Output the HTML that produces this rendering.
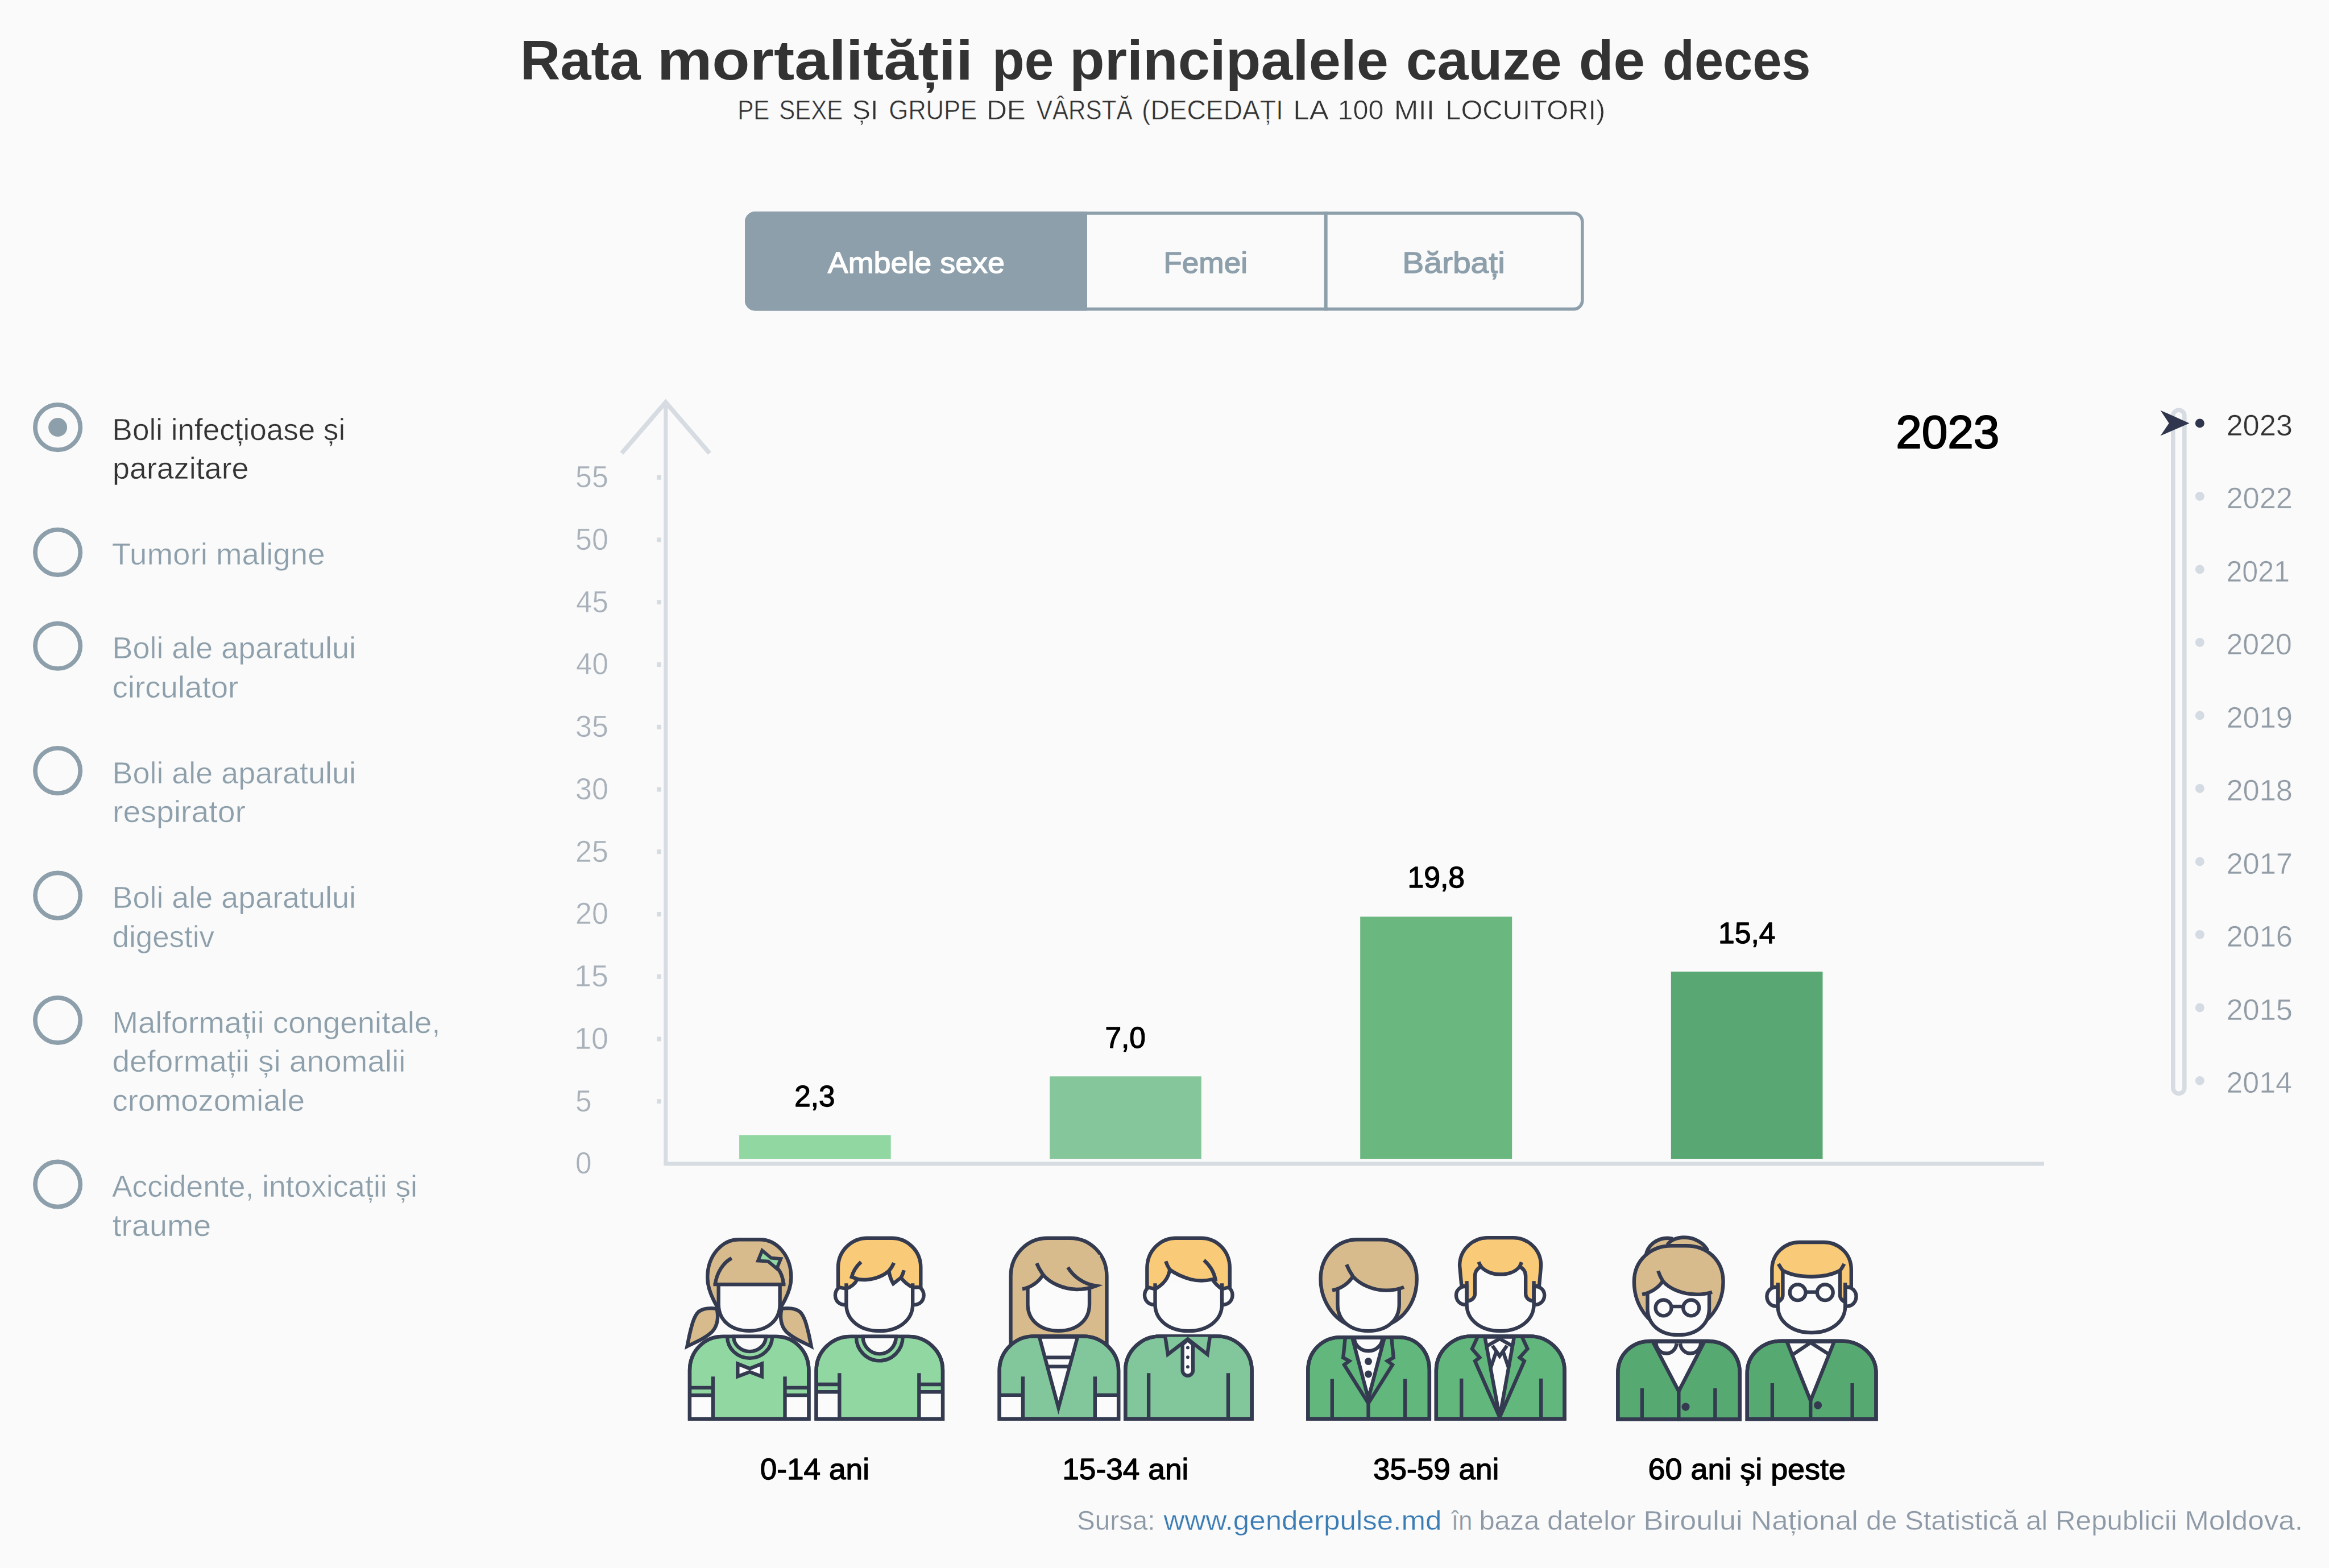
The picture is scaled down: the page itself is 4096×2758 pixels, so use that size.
<!DOCTYPE html>
<html lang="ro"><head><meta charset="utf-8"><title>Rata mortalității pe principalele cauze de deces</title>
<style>
html,body{margin:0;padding:0;background:#fafafa;}
body{width:4096px;height:2758px;font-family:"Liberation Sans", Arial, Helvetica, sans-serif;}
svg{display:block;position:absolute;left:0;top:0;}
text{font-family:"Liberation Sans", Arial, Helvetica, sans-serif;white-space:pre;}
.ol{stroke:#343b50;stroke-width:27;stroke-linejoin:miter;stroke-linecap:butt;}
.nf{fill:none;}
</style></head><body>
<svg width="4096" height="2758" viewBox="0 0 4096 2758">
<rect width="4096" height="2758" fill="#fafafa"/>

<rect x="1312.8" y="375" width="1470" height="168.6" rx="15" fill="#fafafa" stroke="#8d9fab" stroke-width="5.6"/>
<path d="M1912,372.2 H1328 a18,18 0 0 0 -18,18 V528.4 a18,18 0 0 0 18,18 H1912 Z" fill="#8d9fab"/>
<rect x="2328.7" y="372.2" width="6" height="174.2" fill="#8d9fab"/>
<circle cx="101.6" cy="751.6" r="39.7" fill="none" stroke="#8d9fab" stroke-width="7.7"/>
<circle cx="101.6" cy="971.4" r="39.7" fill="none" stroke="#8d9fab" stroke-width="7.7"/>
<circle cx="101.6" cy="1136.3" r="39.7" fill="none" stroke="#8d9fab" stroke-width="7.7"/>
<circle cx="101.6" cy="1355.6" r="39.7" fill="none" stroke="#8d9fab" stroke-width="7.7"/>
<circle cx="101.6" cy="1575.1" r="39.7" fill="none" stroke="#8d9fab" stroke-width="7.7"/>
<circle cx="101.6" cy="1794.5" r="39.7" fill="none" stroke="#8d9fab" stroke-width="7.7"/>
<circle cx="101.6" cy="2083.0" r="39.7" fill="none" stroke="#8d9fab" stroke-width="7.7"/>
<circle cx="101.6" cy="751.6" r="16.5" fill="#8d9fab"/>
<path d="M1170.8,705 V2047 H3595" fill="none" stroke="#d6dce2" stroke-width="7.2" stroke-linecap="butt" stroke-linejoin="miter"/>
<path d="M1093.3,797.2 L1170.7,707.5 L1247.9,797.2" fill="none" stroke="#d6dce2" stroke-width="7.8" stroke-linejoin="miter"/>
<rect x="1155" y="1933.2" width="8" height="8" fill="#d6dce2"/>
<rect x="1155" y="1823.5" width="8" height="8" fill="#d6dce2"/>
<rect x="1155" y="1713.8" width="8" height="8" fill="#d6dce2"/>
<rect x="1155" y="1604.0" width="8" height="8" fill="#d6dce2"/>
<rect x="1155" y="1494.2" width="8" height="8" fill="#d6dce2"/>
<rect x="1155" y="1384.5" width="8" height="8" fill="#d6dce2"/>
<rect x="1155" y="1274.8" width="8" height="8" fill="#d6dce2"/>
<rect x="1155" y="1165.0" width="8" height="8" fill="#d6dce2"/>
<rect x="1155" y="1055.2" width="8" height="8" fill="#d6dce2"/>
<rect x="1155" y="945.5" width="8" height="8" fill="#d6dce2"/>
<rect x="1155" y="835.8" width="8" height="8" fill="#d6dce2"/>
<rect x="1300.1" y="1996.5" width="266.6" height="42.3" fill="#90d7a1"/>
<rect x="1846.2" y="1893.3" width="266.6" height="145.5" fill="#86c69b"/>
<rect x="2392.2" y="1612.4" width="267.0" height="426.4" fill="#6ab880"/>
<rect x="2938.8" y="1709.0" width="266.7" height="329.8" fill="#59a873"/>
<rect x="3821.8" y="721.2" width="20" height="1202.4" rx="10" fill="none" stroke="#d6dce2" stroke-width="7.6"/>
<circle cx="3868.8" cy="744.4" r="8" fill="#30364d"/>
<circle cx="3868.8" cy="872.9" r="8" fill="#d5dbe3"/>
<circle cx="3868.8" cy="1001.4" r="8" fill="#d5dbe3"/>
<circle cx="3868.8" cy="1129.9" r="8" fill="#d5dbe3"/>
<circle cx="3868.8" cy="1258.4" r="8" fill="#d5dbe3"/>
<circle cx="3868.8" cy="1386.9" r="8" fill="#d5dbe3"/>
<circle cx="3868.8" cy="1515.4" r="8" fill="#d5dbe3"/>
<circle cx="3868.8" cy="1643.9" r="8" fill="#d5dbe3"/>
<circle cx="3868.8" cy="1772.4" r="8" fill="#d5dbe3"/>
<circle cx="3868.8" cy="1900.9" r="8" fill="#d5dbe3"/>
<path d="M3799.5,721.7 L3850.5,744.4 L3799.5,766.6 L3814.6,744.4 Z" fill="#30364d"/>
<g transform="translate(1200,2160) scale(0.11798)" fill="none" stroke="#343b50" stroke-width="54" stroke-miterlimit="10">
<path d="M500,1200 C400,1190 300,1200 240,1250 C170,1320 140,1450 105,1600 L72,1765 C200,1700 350,1640 450,1540 C530,1450 540,1320 515,1210 Z" fill="#d8bb8c"/>
<g transform="matrix(-1 0 0 1 1994 0)"><path d="M500,1200 C400,1190 300,1200 240,1250 C170,1320 140,1450 105,1600 L72,1765 C200,1700 350,1640 450,1540 C530,1450 540,1320 515,1210 Z" fill="#d8bb8c"/></g>
<path d="M515,1165 C430,1020 375,880 375,740 C375,400 600,172 840,172 H1155 C1400,172 1622,400 1622,740 C1622,880 1565,1020 1480,1160 Z" fill="#d8bb8c"/>
<path d="M540,840 V1138 C540,1378 727.5,1533 997.5,1533 C1267.5,1533 1455,1378 1455,1138 V840 Z" fill="#fbfbfc"/>
<path d="M462,840 H1538"/>
<path d="M490,840 C510,680 600,520 735,450"/>
<path d="M1510,840 C1500,740 1470,660 1420,600"/>
<path d="M1190,335 L1325,447 L1468,458 L1408,605 L1280,497 L1128,488 Z" fill="#90d7a1" stroke-width="50"/>
</g>
<g transform="translate(1200,2335) scale(0.11798)" fill="none" stroke="#343b50" stroke-width="54" stroke-miterlimit="10">
<path d="M110,1362 V640 C110,350 330,135 600,135 H1400 C1670,135 1885,350 1885,640 V1362 Z" fill="#90d7a1"/>
<rect x="110" y="1010" width="347" height="352" fill="#fbfbfc" stroke="none"/>
<rect x="1530" y="1010" width="355" height="352" fill="#fbfbfc" stroke="none"/>
<path d="M110,897 H457 M1530,897 H1885"/>
<path d="M110,1010 H457 M1530,1010 H1885"/>
<path d="M457,730 V1362 M1530,730 V1362"/>
<path d="M110,1362 V640 C110,350 330,135 600,135 H1400 C1670,135 1885,350 1885,640 V1362 Z"/>
<path d="M765,135 A240,222 0 0 0 1245,135 Z" fill="#fbfbfc"/>
<path d="M670,135 A335,322 0 0 0 1340,135"/>
<path d="M825,540 L1005,612 L1185,540 V730 L1005,662 L825,730 Z" fill="#fbfbfc"/>
</g>
<g transform="translate(1440,2160) scale(0.11798)" fill="none" stroke="#343b50" stroke-width="54" stroke-miterlimit="10">
<path d="M410,862 C300,850 245,930 245,1003 C245,1080 300,1150 410,1145" fill="#fbfbfc"/>
<g transform="matrix(-1 0 0 1 1810 0)"><path d="M410,862 C300,850 245,930 245,1003 C245,1080 300,1150 410,1145" fill="#fbfbfc"/></g>
<path d="M410,830 V1140 C410,1380 627,1535 905,1535 C1183,1535 1400,1380 1400,1140 V830 Z" fill="#fbfbfc" stroke="none"/>
<path d="M288,880 V590 C288,330 500,150 720,150 H1090 C1310,150 1520,330 1520,590 V880 L1400,885 C1330,850 1270,800 1225,740 L1110,830 C1075,770 1055,710 1045,640 C930,740 760,790 575,765 C540,830 480,880 410,905 Z" fill="#f9ca78"/>
<path d="M630,505 C560,570 510,650 490,730 L590,765"/>
<path d="M1120,520 C1100,565 1075,605 1045,640"/>
<path d="M1270,630 C1260,670 1245,705 1225,740"/>
<path d="M410,825 V1140 C410,1380 627,1535 905,1535 C1183,1535 1400,1380 1400,1140 V825"/>
</g>
<g transform="translate(1425,2335) scale(0.11798)" fill="none" stroke="#343b50" stroke-width="54" stroke-miterlimit="10">
<path d="M90,1362 V640 C90,350 330,135 600,135 H1465 C1735,135 1975,350 1975,640 V1362 Z" fill="#90d7a1"/>
<rect x="90" y="960" width="345" height="402" fill="#fbfbfc" stroke="none"/>
<rect x="1622" y="960" width="353" height="402" fill="#fbfbfc" stroke="none"/>
<path d="M90,848 H435 M1622,848 H1975"/>
<path d="M90,960 H435 M1622,960 H1975"/>
<path d="M435,680 V1362 M1622,680 V1362"/>
<path d="M90,1362 V640 C90,350 330,135 600,135 H1465 C1735,135 1975,350 1975,640 V1362 Z"/>
<path d="M785,135 A247,258 0 0 0 1279,135 Z" fill="#fbfbfc"/>
<path d="M685,135 A347,360 0 0 0 1379,135"/>
</g>
<g transform="translate(1740,2160) scale(0.11798)" fill="none" stroke="#343b50" stroke-width="54" stroke-miterlimit="10">
<path d="M318,2000 V720 C318,400 560,150 870,150 H1200 C1510,150 1750,400 1750,720 V2000 Z" fill="#d8bb8c"/>
<path d="M572,600 V1138 C572,1378 762,1533 1032,1533 C1302,1533 1492,1378 1492,1138 V600 Z" fill="#fbfbfc" stroke="none"/>
<path d="M572,600 V1138 C572,1378 762,1533 1032,1533 C1302,1533 1492,1378 1492,1138 V600"/>
<path d="M492,910 C620,890 740,800 800,695 C900,820 1100,910 1300,915 C1430,915 1520,890 1590,862 L1650,400 L492,400 Z" fill="#d8bb8c" stroke="none"/>
<path d="M492,910 C620,890 740,800 800,695"/>
<path d="M705,525 C740,610 770,650 800,695 C900,820 1100,910 1300,915 C1430,915 1520,890 1590,862 C1400,835 1250,720 1170,585" stroke-miterlimit="20"/>
</g>
<g transform="translate(1740,2335) scale(0.11798)" fill="none" stroke="#343b50" stroke-width="54" stroke-miterlimit="10">
<path d="M150,1362 V640 C150,350 390,130 660,130 H1400 C1670,130 1925,350 1925,640 V1362 Z" fill="#82c79b"/>
<rect x="150" y="1008" width="350" height="354" fill="#fbfbfc" stroke="none"/>
<rect x="1575" y="1008" width="350" height="354" fill="#fbfbfc" stroke="none"/>
<path d="M150,1008 H500 M1575,1008 H1925"/>
<path d="M500,730 V1362 M1575,730 V1362"/>
<path d="M150,1362 V640 C150,350 390,130 660,130 H1400 C1670,130 1925,350 1925,640 V1362 Z"/>
<path d="M745,140 L1030,1195 L1315,140 Z" fill="#fbfbfc"/>
<path d="M835,447 H1225 M872,582 H1188"/>
</g>
<g transform="translate(1990,2160) scale(0.11798)" fill="none" stroke="#343b50" stroke-width="54" stroke-miterlimit="10">
<path d="M352,862 C250,850 195,930 195,1000 C195,1075 250,1148 352,1142" fill="#fbfbfc"/>
<g transform="matrix(-1 0 0 1 1700 0)"><path d="M352,862 C250,850 195,930 195,1000 C195,1075 250,1148 352,1142" fill="#fbfbfc"/></g>
<path d="M352,830 V1140 C352,1380 572,1535 850,1535 C1128,1535 1348,1380 1348,1140 V830 Z" fill="#fbfbfc" stroke="none"/>
<path d="M232,880 V600 C232,330 440,150 660,150 H1040 C1260,150 1465,330 1465,600 V880 L1348,910 C1290,870 1240,820 1205,765 C1100,790 980,790 880,765 C760,730 650,680 570,620 C550,760 460,850 352,910 Z" fill="#f9ca78"/>
<path d="M510,495 C525,540 545,580 570,620"/>
<path d="M1080,480 C1170,560 1230,660 1250,765 L1205,765"/>
<path d="M352,825 V1140 C352,1380 572,1535 850,1535 C1128,1535 1348,1380 1348,1140 V825"/>
</g>
<g transform="translate(1970,2335) scale(0.11798)" fill="none" stroke="#343b50" stroke-width="54" stroke-miterlimit="10">
<path d="M78,1362 V640 C78,350 320,130 590,130 H1450 C1720,130 1963,350 1963,640 V1362 Z" fill="#82c79b"/>
<path d="M78,1362 V640 C78,350 320,130 590,130 H1450 C1720,130 1963,350 1963,640 V1362 Z"/>
<path d="M930,250 V640 A77.5,77.5 0 0 0 1085,640 V250 L1008,185 Z" fill="#fbfbfc"/>
<path d="M672,140 L712,400 L1008,172 L1300,400 L1338,140" fill="#82c79b"/>
<circle cx="1008" cy="300" r="25" fill="#343b50" stroke="none"/><circle cx="1008" cy="443" r="25" fill="#343b50" stroke="none"/><circle cx="1008" cy="586" r="25" fill="#343b50" stroke="none"/>
<path d="M425,680 V1362 M1610,680 V1362"/>
</g>
<g transform="translate(2285,2160) scale(0.11798)" fill="none" stroke="#343b50" stroke-width="54" stroke-miterlimit="10">
<path d="M780,1462 C520,1370 318,1090 318,760 C318,420 560,172 870,172 H1200 C1510,172 1752,420 1752,760 C1752,1090 1570,1360 1290,1452 L1031,1250 Z" fill="#d8bb8c"/>
<path d="M572,600 V1140 C572,1380 761,1535 1031,1535 C1301,1535 1490,1380 1490,1140 V600 Z" fill="#fbfbfc" stroke="none"/>
<path d="M572,600 V1140 C572,1380 761,1535 1031,1535 C1301,1535 1490,1380 1490,1140 V600"/>
<path d="M492,930 C620,905 740,825 800,720 C900,840 1100,930 1300,930 C1400,930 1490,910 1560,880 L1560,400 L492,400 Z" fill="#d8bb8c" stroke="none"/>
<path d="M492,930 C620,905 740,825 800,720"/>
<path d="M705,545 C735,620 765,670 800,720 C900,840 1100,930 1300,930 C1400,930 1490,910 1560,880"/>
</g>
<g transform="translate(2285,2335) scale(0.11798)" fill="none" stroke="#343b50" stroke-width="54" stroke-miterlimit="10">
<path d="M130,1362 V640 C130,350 350,145 620,145 H1480 C1750,145 1940,350 1940,640 V1362 Z" fill="#62b77d"/>
<path d="M130,1362 V640 C130,350 350,145 620,145 H1480 C1750,145 1940,350 1940,640 V1362 Z"/>
<path d="M790,150 L1030,1060 L1270,150 Z" fill="#fbfbfc"/>
<path d="M820,150 A210,200 0 0 0 1240,150"/>
<path d="M685,150 L655,450 L745,500 L670,555 L1030,1130 L1390,555 L1315,500 L1405,450 L1375,150"/>
<path d="M1030,1130 V1362"/>
<circle cx="1030" cy="505" r="55" fill="#343b50" stroke="none"/><circle cx="1030" cy="695" r="55" fill="#343b50" stroke="none"/>
<path d="M490,765 V1362 M1578,765 V1362"/>
</g>
<g transform="translate(2535,2160) scale(0.11798)" fill="none" stroke="#343b50" stroke-width="54" stroke-miterlimit="10">
<path d="M378,872 C275,860 220,935 220,1003 C220,1078 275,1150 378,1142" fill="#fbfbfc"/>
<g transform="matrix(-1 0 0 1 1756 0)"><path d="M378,872 C275,860 220,935 220,1003 C220,1078 275,1150 378,1142" fill="#fbfbfc"/></g>
<path d="M378,800 V1140 C378,1380 600,1535 878,1535 C1156,1535 1378,1380 1378,1140 V800 Z" fill="#fbfbfc" stroke="none"/>
<path d="M300,860 L272,560 C272,320 470,145 690,145 H1070 C1290,145 1485,320 1485,560 L1458,860 L1378,870 V1090 C1316,1085 1256,1050 1256,980 V720 C1256,650 1216,600 1166,575 C1100,660 980,690 878,690 C780,690 660,660 590,575 C540,600 500,650 500,720 V980 C500,1050 440,1085 378,1090 V870 Z" fill="#f9ca78"/>
<path d="M555,505 C565,530 577,553 590,575 M1166,575 C1178,553 1188,530 1195,510"/>
<path d="M378,790 V1140 C378,1380 600,1535 878,1535 C1156,1535 1378,1380 1378,1140 V790"/>
</g>
<g transform="translate(2515,2335) scale(0.11798)" fill="none" stroke="#343b50" stroke-width="54" stroke-miterlimit="10">
<path d="M92,1362 V640 C92,350 340,130 610,130 H1490 C1760,130 2005,350 2005,640 V1362 Z" fill="#62b77d"/>
<path d="M92,1362 V640 C92,350 340,130 610,130 H1490 C1760,130 2005,350 2005,640 V1362 Z"/>
<path d="M817,140 L1038,1339 L1254,140 Z" fill="#fbfbfc" stroke-miterlimit="2.4"/>
<path d="M1038,167 L856,271 M1038,167 L1220,271"/>
<path d="M930,271 L1038,426 L1146,271"/>
<path d="M985,365 L905,600 M1091,365 L1171,600"/>
<path d="M709,140 L627,318 L739,448 L670,500 L1038,1339 L1405,500 L1336,448 L1453,318 L1371,140" stroke-miterlimit="2.4"/>
<path d="M468,760 V1362 M1655,760 V1362"/>
</g>
<g transform="translate(2830,2160) scale(0.11798)" fill="none" stroke="#343b50" stroke-width="54" stroke-miterlimit="10">
<path d="M545,420 C570,250 720,150 870,150 C900,150 930,155 950,162 C1000,145 1060,140 1120,140 C1280,140 1420,230 1470,340 L1470,500 H545 Z" fill="#d8bb8c" stroke="none"/>
<path d="M545,420 C570,250 720,150 870,150 C900,150 930,155 950,162"/>
<path d="M870,250 C900,190 1000,140 1120,140 C1280,140 1420,230 1470,340"/>
<path d="M640,1400 C470,1250 372,1040 372,800 C372,480 620,265 930,265 H1150 C1460,265 1700,480 1700,800 C1700,1040 1600,1250 1425,1400 L1032,1200 Z" fill="#d8bb8c"/>
<path d="M572,700 V1200 C572,1440 762,1595 1032,1595 C1302,1595 1492,1440 1492,1200 V700 Z" fill="#fbfbfc" stroke="none"/>
<path d="M572,700 V1200 C572,1440 762,1595 1032,1595 C1302,1595 1492,1440 1492,1200 V700"/>
<path d="M492,990 C620,965 740,890 800,790 C900,910 1100,990 1300,990 C1400,990 1470,975 1535,955 L1535,500 L492,500 Z" fill="#d8bb8c" stroke="none"/>
<path d="M492,990 C620,965 740,890 800,790"/>
<path d="M730,640 C750,700 775,750 800,790 C900,910 1100,990 1300,990 C1400,990 1470,975 1535,955"/>
<circle cx="810" cy="1190" r="118"/><circle cx="1222" cy="1190" r="118"/>
<path d="M928,1170 H1104"/>
</g>
<g transform="translate(2830,2335) scale(0.11798)" fill="none" stroke="#343b50" stroke-width="54" stroke-miterlimit="10">
<path d="M130,1368 V680 C130,390 350,203 620,203 H1470 C1740,203 1948,390 1948,680 V1368 Z" fill="#57a972"/>
<path d="M130,1368 V680 C130,390 350,203 620,203 H1470 C1740,203 1948,390 1948,680 V1368 Z"/>
<path d="M650,210 L1037,950 L1420,210 Z" fill="#fbfbfc"/>
<path d="M700,215 A150,155 0 0 0 1005,240 M1060,240 A150,155 0 0 0 1365,215"/>
<path d="M1037,950 V1395"/>
<circle cx="1140" cy="1183" r="60" fill="#343b50" stroke="none"/>
<path d="M490,905 V1368 M1580,905 V1368"/>
</g>
<g transform="translate(3080,2160) scale(0.11798)" fill="none" stroke="#343b50" stroke-width="54" stroke-miterlimit="10">
<path d="M396,882 C290,870 232,950 232,1022 C232,1100 290,1175 396,1166" fill="#fbfbfc"/>
<g transform="matrix(-1 0 0 1 1796 0)"><path d="M396,882 C290,870 232,950 232,1022 C232,1100 290,1175 396,1166" fill="#fbfbfc"/></g>
<path d="M396,820 V1165 C396,1405 620,1560 898,1560 C1176,1560 1400,1405 1400,1165 V820 Z" fill="#fbfbfc" stroke="none"/>
<path d="M308,880 V620 C308,380 500,212 720,212 H1080 C1300,212 1490,380 1490,620 V880 L1400,880 V1105 C1350,1080 1322,1040 1322,1000 V635 C1200,700 1050,725 898,725 C746,725 590,700 470,635 V1000 C470,1040 440,1080 396,1105 V880 Z" fill="#f9ca78"/>
<path d="M405,535 C425,570 445,605 470,635 M1322,635 C1347,605 1367,570 1385,535"/>
<path d="M396,815 V1165 C396,1405 620,1560 898,1560 C1176,1560 1400,1405 1400,1165 V815"/>
<circle cx="692" cy="960" r="118"/><circle cx="1100" cy="960" r="118"/>
<path d="M810,955 H982"/>
</g>
<g transform="translate(3060,2335) scale(0.11798)" fill="none" stroke="#343b50" stroke-width="54" stroke-miterlimit="10">
<path d="M108,1365 V680 C108,390 350,200 620,200 H1510 C1780,200 2030,390 2030,680 V1365 Z" fill="#57a972"/>
<path d="M108,1365 V680 C108,390 350,200 620,200 H1510 C1780,200 2030,390 2030,680 V1365 Z"/>
<path d="M700,210 L1053,1090 L1405,210 Z" fill="#fbfbfc"/>
<path d="M1053,225 L795,400 M1053,225 L1320,395"/>
<path d="M1053,1090 V1365"/>
<circle cx="1162" cy="1160" r="60" fill="#343b50" stroke="none"/>
<path d="M482,830 V1365 M1675,830 V1365"/>
</g>
<text font-size="98.5" fill="#333333" font-weight="700"><tspan x="914.64" y="140.00" textLength="211.93" lengthAdjust="spacingAndGlyphs">Rata</tspan> <tspan x="1155.68" y="140.00" textLength="555.60" lengthAdjust="spacingAndGlyphs">mortalității</tspan> <tspan x="1745.05" y="140.00" textLength="108.15" lengthAdjust="spacingAndGlyphs">pe</tspan> <tspan x="1881.05" y="140.00" textLength="560.93" lengthAdjust="spacingAndGlyphs">principalele</tspan> <tspan x="2472.70" y="140.00" textLength="274.01" lengthAdjust="spacingAndGlyphs">cauze</tspan> <tspan x="2776.65" y="140.00" textLength="116.47" lengthAdjust="spacingAndGlyphs">de</tspan> <tspan x="2923.77" y="140.00" textLength="260.66" lengthAdjust="spacingAndGlyphs">deces</tspan></text>
<text font-size="48.7" fill="#333333" stroke="#fafafa" stroke-width="0.6" stroke-linejoin="round"><tspan x="1297.13" y="210.00" textLength="56.39" lengthAdjust="spacingAndGlyphs">PE</tspan> <tspan x="1370.27" y="210.00" textLength="112.12" lengthAdjust="spacingAndGlyphs">SEXE</tspan> <tspan x="1498.81" y="210.00" textLength="45.75" lengthAdjust="spacingAndGlyphs">ȘI</tspan> <tspan x="1563.21" y="210.00" textLength="155.09" lengthAdjust="spacingAndGlyphs">GRUPE</tspan> <tspan x="1734.92" y="210.00" textLength="69.07" lengthAdjust="spacingAndGlyphs">DE</tspan> <tspan x="1822.80" y="210.00" textLength="168.78" lengthAdjust="spacingAndGlyphs">VÂRSTĂ</tspan> <tspan x="2008.06" y="210.00" textLength="248.73" lengthAdjust="spacingAndGlyphs">(DECEDAȚI</tspan> <tspan x="2274.39" y="210.00" textLength="59.65" lengthAdjust="spacingAndGlyphs">LA</tspan> <tspan x="2352.61" y="210.00" textLength="80.93" lengthAdjust="spacingAndGlyphs">100</tspan> <tspan x="2451.79" y="210.00" textLength="71.08" lengthAdjust="spacingAndGlyphs">MII</tspan> <tspan x="2542.29" y="210.00" textLength="280.92" lengthAdjust="spacingAndGlyphs">LOCUITORI)</tspan></text>
<text x="1455.85" y="479.50" textLength="311.05" lengthAdjust="spacingAndGlyphs" font-size="52.3" fill="#ffffff" stroke="#ffffff" stroke-width="1.3" stroke-linejoin="round">Ambele sexe</text>
<text x="2046.17" y="479.50" textLength="148.04" lengthAdjust="spacingAndGlyphs" font-size="52.3" fill="#8d9fab" stroke="#8d9fab" stroke-width="1.3" stroke-linejoin="round">Femei</text>
<text x="2466.29" y="479.50" textLength="180.51" lengthAdjust="spacingAndGlyphs" font-size="52.3" fill="#8d9fab" stroke="#8d9fab" stroke-width="1.3" stroke-linejoin="round">Bărbați</text>
<text x="197.59" y="773.60" textLength="409.59" lengthAdjust="spacingAndGlyphs" font-size="54.2" fill="#333333" stroke="#fafafa" stroke-width="0.5" stroke-linejoin="round">Boli infecțioase și</text>
<text x="198.02" y="842.30" textLength="239.51" lengthAdjust="spacingAndGlyphs" font-size="54.2" fill="#333333" stroke="#fafafa" stroke-width="0.5" stroke-linejoin="round">parazitare</text>
<text x="196.69" y="993.40" textLength="374.87" lengthAdjust="spacingAndGlyphs" font-size="54.2" fill="#8d9fab" stroke="#fafafa" stroke-width="0.5" stroke-linejoin="round">Tumori maligne</text>
<text x="197.52" y="1158.30" textLength="428.40" lengthAdjust="spacingAndGlyphs" font-size="54.2" fill="#8d9fab" stroke="#fafafa" stroke-width="0.5" stroke-linejoin="round">Boli ale aparatului</text>
<text x="197.48" y="1227.00" textLength="221.86" lengthAdjust="spacingAndGlyphs" font-size="54.2" fill="#8d9fab" stroke="#fafafa" stroke-width="0.5" stroke-linejoin="round">circulator</text>
<text x="197.52" y="1377.60" textLength="428.40" lengthAdjust="spacingAndGlyphs" font-size="54.2" fill="#8d9fab" stroke="#fafafa" stroke-width="0.5" stroke-linejoin="round">Boli ale aparatului</text>
<text x="197.93" y="1446.30" textLength="234.11" lengthAdjust="spacingAndGlyphs" font-size="54.2" fill="#8d9fab" stroke="#fafafa" stroke-width="0.5" stroke-linejoin="round">respirator</text>
<text x="197.52" y="1597.10" textLength="428.40" lengthAdjust="spacingAndGlyphs" font-size="54.2" fill="#8d9fab" stroke="#fafafa" stroke-width="0.5" stroke-linejoin="round">Boli ale aparatului</text>
<text x="197.55" y="1665.80" textLength="179.34" lengthAdjust="spacingAndGlyphs" font-size="54.2" fill="#8d9fab" stroke="#fafafa" stroke-width="0.5" stroke-linejoin="round">digestiv</text>
<text x="197.47" y="1816.50" textLength="577.02" lengthAdjust="spacingAndGlyphs" font-size="54.2" fill="#8d9fab" stroke="#fafafa" stroke-width="0.5" stroke-linejoin="round">Malformații congenitale,</text>
<text x="197.47" y="1885.20" textLength="516.11" lengthAdjust="spacingAndGlyphs" font-size="54.2" fill="#8d9fab" stroke="#fafafa" stroke-width="0.5" stroke-linejoin="round">deformații și anomalii</text>
<text x="197.49" y="1953.90" textLength="338.55" lengthAdjust="spacingAndGlyphs" font-size="54.2" fill="#8d9fab" stroke="#fafafa" stroke-width="0.5" stroke-linejoin="round">cromozomiale</text>
<text x="197.00" y="2105.00" textLength="536.99" lengthAdjust="spacingAndGlyphs" font-size="54.2" fill="#8d9fab" stroke="#fafafa" stroke-width="0.5" stroke-linejoin="round">Accidente, intoxicații și</text>
<text x="197.80" y="2173.70" textLength="173.60" lengthAdjust="spacingAndGlyphs" font-size="54.2" fill="#8d9fab" stroke="#fafafa" stroke-width="0.5" stroke-linejoin="round">traume</text>
<text x="1012.08" y="2064.30" textLength="28.50" lengthAdjust="spacingAndGlyphs" font-size="53.3" fill="#a8b1ba" stroke="#fafafa" stroke-width="0.5" stroke-linejoin="round">0</text>
<text x="1012.08" y="1954.55" textLength="28.50" lengthAdjust="spacingAndGlyphs" font-size="53.3" fill="#a8b1ba" stroke="#fafafa" stroke-width="0.5" stroke-linejoin="round">5</text>
<text x="1009.96" y="1844.80" textLength="59.90" lengthAdjust="spacingAndGlyphs" font-size="53.3" fill="#a8b1ba" stroke="#fafafa" stroke-width="0.5" stroke-linejoin="round">10</text>
<text x="1009.96" y="1735.05" textLength="59.90" lengthAdjust="spacingAndGlyphs" font-size="53.3" fill="#a8b1ba" stroke="#fafafa" stroke-width="0.5" stroke-linejoin="round">15</text>
<text x="1012.05" y="1625.30" textLength="57.75" lengthAdjust="spacingAndGlyphs" font-size="53.3" fill="#a8b1ba" stroke="#fafafa" stroke-width="0.5" stroke-linejoin="round">20</text>
<text x="1012.05" y="1515.55" textLength="57.75" lengthAdjust="spacingAndGlyphs" font-size="53.3" fill="#a8b1ba" stroke="#fafafa" stroke-width="0.5" stroke-linejoin="round">25</text>
<text x="1012.05" y="1405.80" textLength="57.75" lengthAdjust="spacingAndGlyphs" font-size="53.3" fill="#a8b1ba" stroke="#fafafa" stroke-width="0.5" stroke-linejoin="round">30</text>
<text x="1012.05" y="1296.05" textLength="57.75" lengthAdjust="spacingAndGlyphs" font-size="53.3" fill="#a8b1ba" stroke="#fafafa" stroke-width="0.5" stroke-linejoin="round">35</text>
<text x="1013.04" y="1186.30" textLength="56.73" lengthAdjust="spacingAndGlyphs" font-size="53.3" fill="#a8b1ba" stroke="#fafafa" stroke-width="0.5" stroke-linejoin="round">40</text>
<text x="1013.04" y="1076.55" textLength="56.73" lengthAdjust="spacingAndGlyphs" font-size="53.3" fill="#a8b1ba" stroke="#fafafa" stroke-width="0.5" stroke-linejoin="round">45</text>
<text x="1012.05" y="966.80" textLength="57.75" lengthAdjust="spacingAndGlyphs" font-size="53.3" fill="#a8b1ba" stroke="#fafafa" stroke-width="0.5" stroke-linejoin="round">50</text>
<text x="1012.05" y="857.05" textLength="57.75" lengthAdjust="spacingAndGlyphs" font-size="53.3" fill="#a8b1ba" stroke="#fafafa" stroke-width="0.5" stroke-linejoin="round">55</text>
<text x="1397.30" y="1945.50" textLength="71.20" lengthAdjust="spacingAndGlyphs" font-size="52.5" fill="#000" stroke="#000" stroke-width="1.3" stroke-linejoin="round">2,3</text>
<text x="1943.39" y="1842.60" textLength="71.43" lengthAdjust="spacingAndGlyphs" font-size="52.5" fill="#000" stroke="#000" stroke-width="1.3" stroke-linejoin="round">7,0</text>
<text x="2475.51" y="1561.20" textLength="100.60" lengthAdjust="spacingAndGlyphs" font-size="52.5" fill="#000" stroke="#000" stroke-width="1.3" stroke-linejoin="round">19,8</text>
<text x="3022.12" y="1658.50" textLength="100.41" lengthAdjust="spacingAndGlyphs" font-size="52.5" fill="#000" stroke="#000" stroke-width="1.3" stroke-linejoin="round">15,4</text>
<text x="1336.71" y="2602.40" textLength="192.30" lengthAdjust="spacingAndGlyphs" font-size="52.3" fill="#000" stroke="#000" stroke-width="1.3" stroke-linejoin="round">0-14 ani</text>
<text x="1868.19" y="2602.40" textLength="222.23" lengthAdjust="spacingAndGlyphs" font-size="52.3" fill="#000" stroke="#000" stroke-width="1.3" stroke-linejoin="round">15-34 ani</text>
<text x="2415.04" y="2602.40" textLength="221.17" lengthAdjust="spacingAndGlyphs" font-size="52.3" fill="#000" stroke="#000" stroke-width="1.3" stroke-linejoin="round">35-59 ani</text>
<text x="2898.59" y="2602.40" textLength="347.31" lengthAdjust="spacingAndGlyphs" font-size="52.3" fill="#000" stroke="#000" stroke-width="1.3" stroke-linejoin="round">60 ani și peste</text>
<text x="3334.18" y="788.10" textLength="182.27" lengthAdjust="spacingAndGlyphs" font-size="81.5" fill="#000" stroke="#000" stroke-width="2.0" stroke-linejoin="round">2023</text>
<text x="3915.40" y="765.90" textLength="116.49" lengthAdjust="spacingAndGlyphs" font-size="52.3" fill="#333333" stroke="#fafafa" stroke-width="0.5" stroke-linejoin="round">2023</text>
<text x="3915.40" y="894.40" textLength="116.49" lengthAdjust="spacingAndGlyphs" font-size="52.3" fill="#929ca6" stroke="#fafafa" stroke-width="0.5" stroke-linejoin="round">2022</text>
<text x="3915.48" y="1022.90" textLength="111.52" lengthAdjust="spacingAndGlyphs" font-size="52.3" fill="#929ca6" stroke="#fafafa" stroke-width="0.5" stroke-linejoin="round">2021</text>
<text x="3915.42" y="1151.40" textLength="115.46" lengthAdjust="spacingAndGlyphs" font-size="52.3" fill="#929ca6" stroke="#fafafa" stroke-width="0.5" stroke-linejoin="round">2020</text>
<text x="3915.40" y="1279.90" textLength="116.49" lengthAdjust="spacingAndGlyphs" font-size="52.3" fill="#929ca6" stroke="#fafafa" stroke-width="0.5" stroke-linejoin="round">2019</text>
<text x="3915.40" y="1408.40" textLength="116.49" lengthAdjust="spacingAndGlyphs" font-size="52.3" fill="#929ca6" stroke="#fafafa" stroke-width="0.5" stroke-linejoin="round">2018</text>
<text x="3915.40" y="1536.90" textLength="116.49" lengthAdjust="spacingAndGlyphs" font-size="52.3" fill="#929ca6" stroke="#fafafa" stroke-width="0.5" stroke-linejoin="round">2017</text>
<text x="3915.40" y="1665.40" textLength="116.49" lengthAdjust="spacingAndGlyphs" font-size="52.3" fill="#929ca6" stroke="#fafafa" stroke-width="0.5" stroke-linejoin="round">2016</text>
<text x="3915.40" y="1793.90" textLength="116.49" lengthAdjust="spacingAndGlyphs" font-size="52.3" fill="#929ca6" stroke="#fafafa" stroke-width="0.5" stroke-linejoin="round">2015</text>
<text x="3915.42" y="1922.40" textLength="115.46" lengthAdjust="spacingAndGlyphs" font-size="52.3" fill="#929ca6" stroke="#fafafa" stroke-width="0.5" stroke-linejoin="round">2014</text>
<text x="1894.06" y="2690.70" textLength="137.45" lengthAdjust="spacingAndGlyphs" font-size="49.0" fill="#8d99a6" stroke="#fafafa" stroke-width="0.4" stroke-linejoin="round">Sursa:</text>
<text x="2046.64" y="2690.70" textLength="488.91" lengthAdjust="spacingAndGlyphs" font-size="49.0" fill="#3b7cb5" stroke="#fafafa" stroke-width="0.4" stroke-linejoin="round">www.genderpulse.md</text>
<text font-size="49.0" fill="#8d99a6" stroke="#fafafa" stroke-width="0.4" stroke-linejoin="round"><tspan x="2552.80" y="2690.70" textLength="36.69" lengthAdjust="spacingAndGlyphs">în</tspan> <tspan x="2601.40" y="2690.70" textLength="106.19" lengthAdjust="spacingAndGlyphs">baza</tspan> <tspan x="2721.12" y="2690.70" textLength="155.50" lengthAdjust="spacingAndGlyphs">datelor</tspan> <tspan x="2890.64" y="2690.70" textLength="173.91" lengthAdjust="spacingAndGlyphs">Biroului</tspan> <tspan x="3079.10" y="2690.70" textLength="188.62" lengthAdjust="spacingAndGlyphs">Național</tspan> <tspan x="3282.11" y="2690.70" textLength="54.25" lengthAdjust="spacingAndGlyphs">de</tspan> <tspan x="3349.89" y="2690.70" textLength="199.44" lengthAdjust="spacingAndGlyphs">Statistică</tspan> <tspan x="3562.99" y="2690.70" textLength="38.31" lengthAdjust="spacingAndGlyphs">al</tspan> <tspan x="3614.98" y="2690.70" textLength="213.70" lengthAdjust="spacingAndGlyphs">Republicii</tspan> <tspan x="3842.22" y="2690.70" textLength="207.76" lengthAdjust="spacingAndGlyphs">Moldova.</tspan></text>
</svg></body></html>
